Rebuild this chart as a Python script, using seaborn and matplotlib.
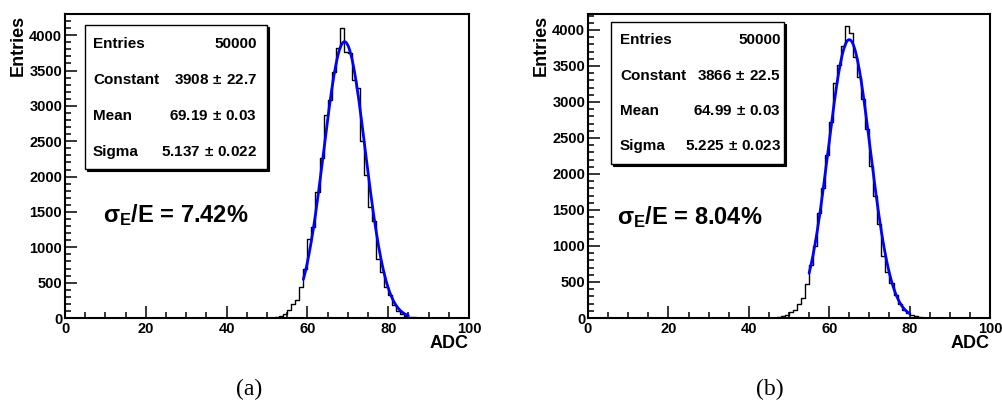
import numpy as np
import pandas as pd
import matplotlib
matplotlib.use("Agg")
import matplotlib.pyplot as plt
from matplotlib.patches import Rectangle
from matplotlib.ticker import MultipleLocator
import seaborn as sns

# --- Histogram contents (1 ADC per bin) ---
bins_a = list(range(52, 88))
counts_a = [14, 28, 55, 110, 195, 255, 445, 700, 1114, 1289, 1784, 2270,
            2870, 3082, 3483, 3814, 4097, 3767, 3752, 3365, 3247, 2506, 2020,
            1572, 1374, 840, 651, 445, 330, 185, 100, 50, 28, 17, 8, 4]
bins_b = list(range(47, 84))
counts_b = [14, 33, 47, 80, 117, 191, 280, 467, 738, 995, 1462, 1803, 2265,
            2723, 3260, 3517, 3773, 4054, 3960, 3619, 3344, 3035, 2620, 2116,
            1695, 1312, 864, 644, 481, 318, 201, 117, 70, 37, 23, 14, 5]

# --- Gaussian fit results shown in the stat boxes ---
fit_a = {"const": 3908, "mean": 69.19, "sigma": 5.137, "range": (59, 85)}
fit_b = {"const": 3866, "mean": 64.99, "sigma": 5.225, "range": (55, 80)}
stats_a = [("Entries", "50000"), ("Constant", "3908$\\,\\pm\\,$22.7"),
           ("Mean", "69.19$\\,\\pm\\,$0.03"), ("Sigma", "5.137$\\,\\pm\\,$0.022")]
stats_b = [("Entries", "50000"), ("Constant", "3866$\\,\\pm\\,$22.5"),
           ("Mean", "64.99$\\,\\pm\\,$0.03"), ("Sigma", "5.225$\\,\\pm\\,$0.023")]
resolution_a = "7.42%"
resolution_b = "8.04%"

W, H = 1002, 403

sns.set_style("white")
plt.rcParams["font.family"] = ["Liberation Sans", "DejaVu Sans"]
plt.rcParams["font.weight"] = "bold"
plt.rcParams["text.color"] = "black"
plt.rcParams["xtick.color"] = "black"
plt.rcParams["ytick.color"] = "black"
plt.rcParams["axes.labelcolor"] = "black"
plt.rcParams["mathtext.fontset"] = "custom"
plt.rcParams["mathtext.rm"] = "Liberation Sans:bold"
plt.rcParams["mathtext.bf"] = "Liberation Sans:bold"
plt.rcParams["mathtext.it"] = "Liberation Sans:bold"


def fx(x):
    return x / W


def fy(y):
    return 1 - y / H


def draw_panel(fig, box, bins, counts, fit, ymax, stats, sbox, rows, res, res_pos, label, label_pos):
    left, right, top, bottom = box
    ax = fig.add_axes([fx(left), fy(bottom), (right - left) / W, (bottom - top) / H])

    df = pd.DataFrame({"adc": np.array(bins, dtype=float) + 0.5,
                       "n": np.array(counts, dtype=float)})
    sns.histplot(data=df, x="adc", weights="n", bins=100, binrange=(0, 100),
                 element="step", fill=False, color="black", linewidth=1, ax=ax)

    # fit curve from the fitted parameters
    xf = np.linspace(fit["range"][0], fit["range"][1], 300)
    yf = fit["const"] * np.exp(-0.5 * ((xf - fit["mean"]) / fit["sigma"]) ** 2)
    sns.lineplot(x=xf, y=yf, color="#0000ff", linewidth=2, ax=ax)

    ax.set_xlim(0, 100)
    ax.set_ylim(0, ymax)
    ax.set_xlabel("")
    ax.set_ylabel("")
    ax.xaxis.set_major_locator(MultipleLocator(20))
    ax.xaxis.set_minor_locator(MultipleLocator(5))
    ax.yaxis.set_major_locator(MultipleLocator(500))
    ax.yaxis.set_minor_locator(MultipleLocator(100))
    ax.tick_params(which="both", direction="in", top=False, right=False,
                   bottom=True, left=True, width=1.1, colors="black")
    ax.tick_params(which="major", length=8.5, labelsize=10.5)
    ax.tick_params(which="minor", length=4.5)
    ax.tick_params(axis="y", pad=2)
    ax.tick_params(axis="x", pad=3)
    for lab in ax.get_xticklabels() + ax.get_yticklabels():
        lab.set_fontweight("bold")
    for s in ax.spines.values():
        s.set_linewidth(1.5)
        s.set_color("black")

    # stat box with shadow
    bl, br, bt, bb = sbox
    fig.patches.append(Rectangle((fx(bl + 2), fy(bb + 2)), (br - bl) / W, (bb - bt) / H,
                                 transform=fig.transFigure, facecolor="black",
                                 edgecolor="black", lw=0.8, zorder=5))
    fig.patches.append(Rectangle((fx(bl), fy(bb)), (br - bl) / W, (bb - bt) / H,
                                 transform=fig.transFigure, facecolor="white",
                                 edgecolor="black", lw=1, zorder=6))
    tl, vr = rows[0], rows[1]
    for (name, val), y in zip(stats, rows[2]):
        fig.text(fx(tl), fy(y), name, ha="left", va="center", fontsize=11,
                 fontweight="bold", zorder=7)
        fig.text(fx(vr), fy(y), val, ha="right", va="center", fontsize=11,
                 fontweight="bold", zorder=7)

    fig.text(fx(res_pos[0]), fy(res_pos[1]), "$\\sigma_{E}$/E = " + res,
             ha="left", va="center", fontsize=17, fontweight="bold")

    fig.text(fx(left - 47), fy(top + 1), "Entries", rotation=90, ha="center",
             va="top", fontsize=13, fontweight="bold")
    fig.text(fx(right), fy(343), "ADC", ha="right", va="center",
             fontsize=13, fontweight="bold")
    fig.text(fx(label_pos[0]), fy(label_pos[1]), label, ha="center", va="center",
             fontsize=17, fontweight="normal", family="Liberation Serif")
    return ax


fig = plt.figure(figsize=(W / 100, H / 100), dpi=100)

draw_panel(fig, (65, 469, 14, 318), bins_a, counts_a, fit_a, 4300, stats_a,
           (85, 267, 25, 169), (93, 257, [44, 80, 116, 152]),
           resolution_a, (103, 215), "(a)", (249, 389))
draw_panel(fig, (588, 990, 14, 318), bins_b, counts_b, fit_b, 4222, stats_b,
           (611, 784, 22, 164), (620, 781, [40, 76, 111, 146]),
           resolution_b, (617, 217), "(b)", (770, 389))

fig.savefig("out.png", dpi=100)
